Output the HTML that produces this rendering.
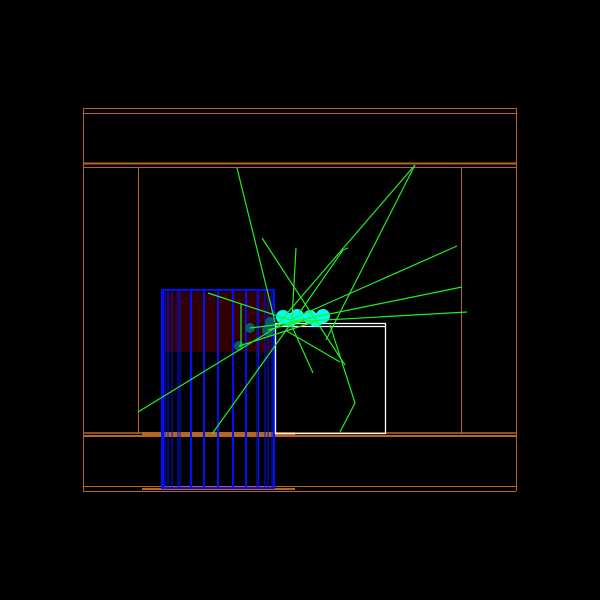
<!DOCTYPE html>
<html><head><meta charset="utf-8"><style>html,body{margin:0;padding:0;background:#000;width:600px;height:600px;overflow:hidden}</style></head>
<body>
<svg id="s" width="600" height="600" xmlns="http://www.w3.org/2000/svg" style="display:block;background:#000">
<g stroke="#b8681e" fill="none" stroke-width="1">
<line x1="83" y1="108.5" x2="516" y2="108.5"/>
<line x1="83" y1="113.5" x2="516" y2="113.5"/>
<line x1="83" y1="163.5" x2="516" y2="163.5" stroke-width="2"/>
<line x1="83" y1="167.5" x2="516" y2="167.5"/>
<line x1="83" y1="433" x2="516" y2="433" stroke-width="1.5"/>
<line x1="83" y1="436" x2="516" y2="436" stroke-width="2"/>
<line x1="83" y1="486.5" x2="516" y2="486.5"/>
<line x1="83" y1="491.5" x2="516" y2="491.5"/>
<line x1="83.5" y1="108" x2="83.5" y2="491"/>
<line x1="516.5" y1="108" x2="516.5" y2="491"/>
<line x1="138.5" y1="167" x2="138.5" y2="434"/>
<line x1="461.5" y1="167" x2="461.5" y2="434"/>
<rect x="142" y="432" width="153" height="3" fill="#b8681e" stroke="none"/>
<rect x="142" y="488" width="153" height="2" fill="#b8681e" stroke="none"/>
</g>
<rect x="165" y="292" width="107" height="60" fill="#330000"/>
<g id="blue" stroke="#0010ff" fill="none"></g>
<g stroke="#fff" fill="none" stroke-width="1.3">
<rect x="275.5" y="323.5" width="110" height="110"/>
<line x1="275" y1="326.5" x2="385" y2="326.5"/>
</g>
<g id="hits"></g>
<g id="tracks" stroke="#22ee22" stroke-width="1.2" fill="none"></g>
</svg>
<script>
const thinX=[162,163.5,165,168,172,178,180,257,258.5,265,268,272,274];
const thickX=[191,204,218,233,246];
const tracks=[[[237,168],[275,322]],[[415,165],[277,325]],[[415,165],[326,340]],[[457,246],[290,320]],[[462,287],[290,322]],[[467,312],[290,322]],[[262,238],[345,365]],[[296,248],[292,320]],[[348,248],[343,250],[300,312]],[[208,293],[290,320]],[[138,412],[280,325]],[[212,434],[292,322]],[[340,432],[355,403],[330,325]],[[313,373],[290,322]],[[340,362],[285,330]],[[241,304],[241,347]],[[250,328],[300,322]],[[268,330],[310,318]],[[239,346],[320,320]]];
const cyan=[[283,317],[297,316],[310,317],[323,316],[290,320],[316,320]];
const teal=[[250,328,5],[268,330,6],[239,346,5],[270,322,5]];
const NS='http://www.w3.org/2000/svg';
const B=document.getElementById('blue');
function mk(t,a,p){const e=document.createElementNS(NS,t);for(const k in a)e.setAttribute(k,a[k]);p.appendChild(e);return e;}
let r=mk('rect',{x:162,y:290,width:112,height:198,'stroke-width':2},B);


thinX.forEach(x=>{const l=mk('line',{x1:x,y1:290,x2:x,y2:488,'stroke-width':1},B);

});
thickX.forEach(x=>{const l=mk('line',{x1:x,y1:290,x2:x,y2:488,'stroke-width':2},B);

});
const H=document.getElementById('hits');
teal.forEach(c=>{const e=mk('circle',{cx:c[0],cy:c[1],r:c[2],fill:'#0a5a6a'},H);

});
cyan.forEach(c=>{const e=mk('circle',{cx:c[0],cy:c[1],r:7,fill:'#00ffee'},H);

});
const T=document.getElementById('tracks');
tracks.forEach(p=>{const e=mk('polyline',{points:p.map(q=>q.join(',')).join(' ')},T);

});
</script>
</body></html>
